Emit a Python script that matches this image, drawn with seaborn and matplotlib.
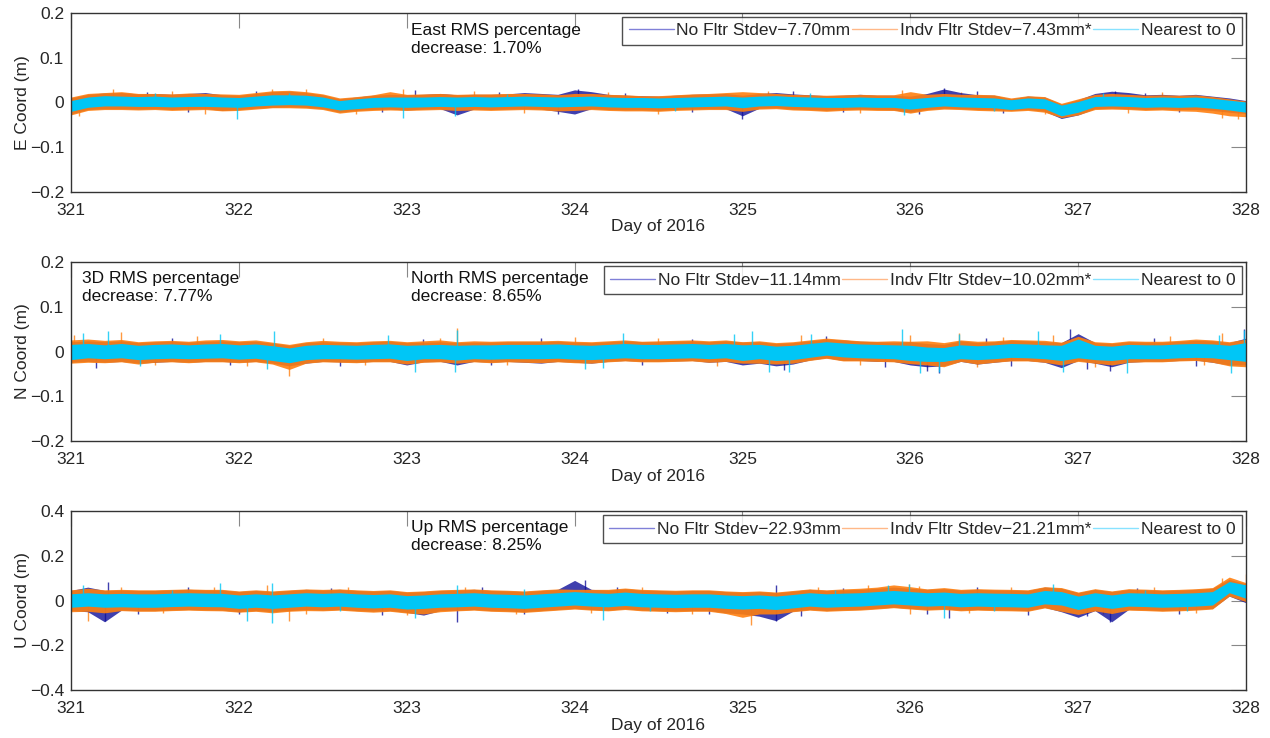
import numpy as np
import pandas as pd
import matplotlib
matplotlib.use("Agg")
import matplotlib.pyplot as plt
from matplotlib.lines import Line2D
import seaborn as sns

# sample times (day of 2016), one envelope value every 0.1 day
days = np.linspace(321, 328, 71)

# ---- East (mm): lower / upper envelope of each series ----
e_nofl_hi = [10,18,21,22,19,20,18,20,22,17,16,20,24,25,22,17,8,12,16,18,17,18,20,17,18,18,19,22,20,18,28,24,18,16,15,14,16,18,19,20,16,20,22,19,17,15,16,18,16,16,14,20,30,22,17,16,8,14,12,-4,6,20,25,22,17,18,16,18,14,10,4]
e_nofl_lo = [-26,-16,-14,-14,-15,-14,-16,-15,-14,-18,-16,-13,-11,-10,-11,-14,-22,-18,-16,-15,-17,-15,-14,-28,-15,-16,-15,-14,-15,-20,-26,-14,-16,-17,-17,-18,-16,-15,-14,-14,-30,-13,-12,-15,-16,-18,-16,-15,-16,-17,-22,-16,-13,-14,-16,-17,-18,-16,-20,-36,-28,-14,-13,-14,-16,-15,-16,-16,-18,-22,-25]
e_indv_hi = [12,20,22,24,20,20,19,21,20,19,18,22,26,27,24,19,10,13,17,24,18,19,20,18,19,19,20,20,19,17,20,20,18,17,15,15,17,19,20,22,24,22,20,18,17,16,17,18,17,17,24,18,20,18,18,17,10,15,13,-2,8,18,20,18,16,17,16,17,13,8,3]
e_indv_lo = [-28,-18,-16,-16,-17,-16,-18,-17,-16,-19,-18,-15,-12,-12,-13,-16,-24,-20,-18,-17,-18,-17,-16,-18,-17,-18,-17,-16,-17,-19,-18,-16,-18,-19,-19,-20,-18,-17,-16,-16,-20,-15,-14,-17,-18,-20,-18,-17,-18,-18,-24,-18,-15,-16,-18,-19,-20,-18,-22,-34,-28,-16,-15,-16,-18,-17,-19,-20,-24,-30,-32]
e_near_hi = [4,12,15,14,13,14,12,13,14,12,11,14,17,17,16,12,4,8,11,12,12,12,13,12,13,12,13,14,13,12,13,14,12,11,11,10,11,12,13,14,12,14,15,13,12,11,11,12,11,11,8,11,14,12,11,10,6,10,8,-6,2,13,14,13,11,12,11,12,9,5,1]
e_near_lo = [-20,-11,-8,-8,-9,-9,-10,-9,-9,-10,-11,-8,-6,-5,-6,-10,-17,-14,-11,-10,-11,-10,-9,-10,-9,-10,-9,-8,-9,-10,-9,-8,-10,-11,-11,-12,-11,-10,-9,-8,-12,-8,-7,-9,-10,-11,-11,-10,-11,-11,-15,-11,-8,-10,-11,-12,-16,-12,-14,-30,-22,-9,-8,-9,-11,-10,-11,-10,-13,-17,-22]

# ---- North (mm) ----
n_nofl_hi = [22,24,22,24,20,22,23,21,23,24,22,23,19,14,20,22,21,20,22,23,20,21,22,20,21,21,22,22,22,23,21,20,22,24,22,22,23,24,22,24,21,22,18,20,24,28,26,23,22,21,22,18,16,24,20,22,25,24,22,20,40,20,18,22,21,21,23,25,24,20,30]
n_nofl_lo = [-24,-22,-24,-22,-26,-24,-22,-24,-22,-22,-24,-22,-26,-32,-26,-22,-23,-24,-22,-22,-30,-23,-22,-30,-22,-24,-22,-24,-26,-22,-24,-26,-22,-20,-22,-22,-21,-20,-24,-22,-30,-26,-32,-28,-19,-14,-20,-20,-22,-22,-30,-34,-32,-22,-28,-24,-20,-20,-24,-36,-20,-26,-34,-24,-22,-22,-20,-19,-24,-30,-30]
n_indv_hi = [26,28,25,27,22,24,25,23,26,27,24,26,21,16,22,25,23,22,24,25,22,24,26,22,24,23,24,24,24,25,23,22,24,26,23,24,25,26,24,26,22,24,20,22,26,30,27,24,23,24,23,24,20,26,23,24,27,26,25,21,34,22,20,24,23,23,25,28,26,22,28]
n_indv_lo = [-26,-24,-25,-23,-28,-24,-23,-25,-23,-23,-25,-23,-28,-40,-26,-23,-24,-25,-23,-23,-28,-24,-23,-26,-23,-25,-23,-24,-25,-23,-25,-26,-23,-21,-23,-23,-22,-21,-24,-22,-26,-26,-28,-26,-20,-15,-21,-21,-22,-23,-27,-30,-34,-22,-28,-24,-21,-21,-24,-30,-22,-26,-30,-24,-23,-23,-21,-20,-24,-32,-34]
n_near_hi = [16,18,15,18,14,16,17,15,17,18,15,17,13,8,14,16,15,14,16,17,14,15,16,14,15,15,16,16,16,17,15,14,16,18,16,16,17,18,16,18,15,16,12,14,18,22,19,17,16,15,14,10,9,15,13,15,18,17,15,14,28,14,12,16,15,15,17,18,17,14,20]
n_near_lo = [-18,-14,-16,-14,-18,-16,-15,-16,-15,-14,-17,-15,-20,-25,-18,-16,-16,-17,-16,-15,-20,-16,-16,-19,-16,-17,-16,-16,-16,-15,-17,-18,-16,-14,-16,-16,-15,-14,-16,-14,-20,-16,-20,-18,-13,-8,-12,-14,-15,-16,-20,-22,-22,-16,-18,-16,-13,-14,-16,-20,-14,-18,-20,-16,-16,-16,-14,-13,-14,-18,-22]

# ---- Up (mm) ----
u_nofl_hi = [45,60,45,47,45,45,48,50,48,47,40,45,40,45,50,47,50,45,42,45,37,40,45,47,50,45,43,40,45,50,90,50,47,53,47,45,43,45,45,40,37,40,35,42,50,45,48,50,55,60,55,50,53,47,50,48,47,45,60,55,35,50,40,50,48,45,47,50,55,95,75]
u_nofl_lo = [-45,-50,-95,-43,-45,-45,-42,-40,-42,-43,-50,-45,-50,-45,-40,-43,-40,-45,-48,-45,-53,-65,-45,-43,-40,-45,-47,-50,-45,-40,-35,-40,-43,-37,-43,-45,-47,-45,-45,-55,-60,-70,-90,-48,-40,-45,-42,-40,-35,-30,-35,-40,-37,-43,-40,-42,-43,-45,-30,-50,-75,-45,-95,-40,-42,-45,-43,-40,-35,20,-10]
u_indv_hi = [48,55,48,50,48,48,50,52,50,50,43,48,43,48,52,50,52,48,45,48,40,43,48,50,52,48,46,43,48,52,50,50,50,56,50,48,46,48,48,43,40,43,38,45,52,48,52,55,60,70,62,52,58,50,53,51,50,48,62,58,38,53,43,53,51,48,50,53,58,105,80]
u_indv_lo = [-50,-48,-55,-45,-48,-48,-45,-43,-45,-46,-52,-48,-55,-48,-45,-46,-43,-48,-52,-48,-56,-60,-50,-46,-43,-48,-50,-53,-48,-43,-38,-43,-46,-40,-46,-48,-50,-48,-48,-58,-75,-60,-60,-50,-43,-48,-45,-43,-38,-32,-38,-43,-40,-46,-43,-45,-46,-48,-33,-48,-62,-46,-58,-43,-45,-48,-46,-43,-38,20,-5]
u_near_hi = [30,35,30,32,30,30,33,35,33,32,25,30,25,30,35,32,35,30,27,30,22,25,30,32,35,30,28,25,30,35,40,35,32,38,32,30,28,30,30,25,22,25,20,27,35,30,33,35,40,45,40,35,38,32,35,33,32,30,45,40,20,35,25,35,33,30,32,35,40,85,70]
u_near_lo = [-30,-25,-30,-28,-30,-30,-27,-25,-27,-28,-35,-30,-35,-30,-25,-28,-25,-30,-33,-30,-38,-35,-30,-28,-25,-30,-32,-35,-30,-25,-20,-25,-28,-22,-28,-30,-32,-30,-30,-35,-38,-35,-40,-33,-25,-30,-27,-25,-20,-15,-20,-25,-22,-28,-25,-27,-28,-30,-15,-20,-40,-25,-35,-25,-27,-30,-28,-25,-20,35,10]

# isolated spikes: (day, mm)
e_spikes = {
    "nofl": [(324.02, 30), (325.0, -38), (326.2, 32), (327.22, 26), (323.05, 28),
             (321.45, 23), (321.7, -22), (322.1, 25), (322.85, -21), (323.55, 23), (323.9, -25),
             (324.3, 21), (324.7, -21), (325.3, 25), (325.6, -22), (326.05, -27), (326.4, 25),
             (326.55, -23), (327.4, 22), (327.6, -21)],
    "indv": [(321.25, 30), (322.4, 30), (322.98, 30), (325.95, 28), (327.86, -34),
             (321.05, -30), (321.6, 25), (321.8, -25), (322.2, 29), (322.7, -25), (323.4, 25),
             (323.7, -23), (324.2, 24), (324.5, -25), (325.15, 25), (325.7, -23), (326.3, 23),
             (326.8, -25), (327.3, -23), (327.5, 23), (327.95, -36)],
    "near": [(321.99, -36), (322.98, -35), (323.29, -30), (325.96, -28),
             (321.5, 20), (322.3, 22), (323.6, 19), (324.6, -19), (325.4, 21), (326.5, -20), (327.15, 20)],
}
n_spikes = {
    "nofl": [(326.95, 50), (327.99, 50), (326.17, -48), (327.19, -44),
             (321.15, -36), (321.6, 30), (321.95, -30), (322.6, -32), (323.1, 28), (323.5, -30),
             (323.8, 30), (324.4, -30), (324.7, 28), (325.25, -42), (325.5, 34), (325.85, -34),
             (326.1, -44), (326.45, 30), (326.6, -32), (327.05, -40), (327.45, 30), (327.7, -32)],
    "indv": [(322.30, -55), (323.30, 52), (321.3, 44), (326.29, 42), (327.86, 42),
             (321.02, 36), (321.5, -30), (321.75, 34), (322.05, -32), (322.5, 30), (322.75, -30),
             (323.2, 30), (323.6, -30), (324.0, 32), (324.5, 30), (324.85, -32), (325.35, 36),
             (325.7, -30), (326.0, 36), (326.4, -34), (326.55, 32), (326.85, 36), (327.1, -34),
             (327.55, 34), (327.75, -30)],
    "near": [(321.07, 42), (321.22, 45), (321.89, 40), (322.21, 45), (322.89, 38), (323.30, 48),
             (324.29, 42), (324.95, 40), (325.06, 45), (325.41, 40), (325.95, 50), (326.29, 40),
             (326.76, 45), (327.84, 38), (327.99, 48), (321.41, -32), (322.17, -40), (323.05, -45),
             (323.29, -45), (324.06, -40), (324.17, -36), (325.16, -45), (325.28, -45), (326.06, -48),
             (326.17, -45), (326.91, -45), (327.29, -48), (327.91, -48)],
}
u_spikes = {
    "nofl": [(321.22, 85), (324.06, 90), (325.20, 70), (321.2, -90), (323.30, -95), (325.20, -90),
             (327.19, -95), (326.23, -80),
             (321.4, -60), (321.7, 60), (322.0, -60), (322.55, 55), (322.85, -65), (323.45, 60),
             (323.7, -60), (324.25, 60), (324.55, -55), (324.8, -60), (325.35, -70), (325.6, 55),
             (326.1, -60), (326.4, 60), (326.7, -65), (327.05, -70), (327.35, 55), (327.6, -60)],
    "indv": [(322.17, 70), (325.99, 75), (327.86, 100), (328.0, 120), (321.10, -90), (322.30, -90),
             (325.05, -110), (326.0, -60),
             (321.3, 60), (321.55, -55), (321.85, 60), (322.4, -60), (322.65, 60), (323.0, -65),
             (323.35, 60), (323.65, -60), (324.1, -55), (324.4, 60), (324.7, -60), (325.45, 60),
             (325.75, 70), (326.05, 65), (326.35, -55), (326.6, 60), (327.15, -60), (327.45, 60),
             (327.7, -55)],
    "near": [(321.07, 70), (321.89, 80), (322.20, 80), (323.3, 70), (326.85, 75), (325.87, 70),
             (325.99, 75), (322.05, -90), (322.2, -100), (323.05, -80), (324.17, -85), (326.20, -80),
             (321.6, 45), (322.6, -48), (323.7, 50), (324.45, -45), (325.55, 48), (326.5, -45),
             (327.4, 48), (327.65, -45)],
}

# legend labels and annotation text
e_labels = ["No Fltr Stdev\u22127.70mm", "Indv Fltr Stdev\u22127.43mm*", "Nearest to 0"]
n_labels = ["No Fltr Stdev\u221211.14mm", "Indv Fltr Stdev\u221210.02mm*", "Nearest to 0"]
u_labels = ["No Fltr Stdev\u221222.93mm", "Indv Fltr Stdev\u221221.21mm*", "Nearest to 0"]
e_note = "East RMS percentage\ndecrease: 1.70%"
n_note = "North RMS percentage\ndecrease: 8.65%"
u_note = "Up RMS percentage\ndecrease: 8.25%"
d3_note = "3D RMS percentage\ndecrease: 7.77%"

sns.set_theme(style="white")
plt.rcParams['font.family'] = ['Liberation Sans', 'DejaVu Sans']

colors = {"nofl": "#10109a", "indv": "#ff8010", "near": "#00c6f6"}
band_alpha = {"nofl": 0.8, "indv": 0.9, "near": 1.0}
leg_colors = ["#8080d8", "#ffb888", "#88e2ff"]


def long_frame(lo, hi):
    rows = []
    for d, a, b in zip(days, lo, hi):
        rows.append((d, a / 1000.0))
        rows.append((d, b / 1000.0))
    return pd.DataFrame(rows, columns=["day", "val"])


def draw_panel(ax, env, spikes, ylim, yticks, yticklabels, ylabel, labels, notes):
    for key in ["nofl", "indv", "near"]:
        pts = spikes[key]
        xs = [p[0] for p in pts]
        ys = [p[1] / 1000.0 for p in pts]
        z = 0.5 if key != "near" else 1.5
        ax.vlines(xs, 0, ys, color=colors[key], lw=1.0, alpha=0.8, zorder=z)
        lo, hi = env[key]
        sns.lineplot(data=long_frame(lo, hi), x="day", y="val", color=colors[key],
                     estimator="mean", errorbar=("pi", 100), linewidth=0,
                     err_kws={"alpha": band_alpha[key], "linewidth": 0, "zorder": z + 0.2},
                     legend=False, ax=ax)
    ax.set_xlim(321, 328)
    ax.set_ylim(*ylim)
    ax.set_xticks(range(321, 329))
    ax.set_xticklabels([str(d) for d in range(321, 329)])
    ax.set_yticks(yticks)
    ax.set_yticklabels(yticklabels)
    ax.set_xlabel("Day of 2016", fontsize=12.5, labelpad=1)
    ax.set_ylabel(ylabel, fontsize=12.5, labelpad=0)
    ax.tick_params(direction="in", length=11, width=0.8, color="#888888", labelsize=12.5,
                   top=True, right=True, pad=5)
    ax.tick_params(axis="x", pad=8)
    for s in ax.spines.values():
        s.set_color("#333333")
        s.set_linewidth(1.0)
        s.set_zorder(5)
    handles = [Line2D([], [], color=c, lw=1) for c in leg_colors]
    leg = ax.legend(handles, labels, loc="upper right", bbox_to_anchor=(1.0, 1.0), ncol=3,
                    fontsize=12.5, frameon=True, fancybox=False, borderaxespad=0.25,
                    handlelength=2.6, handletextpad=0.15, columnspacing=0.1, borderpad=0.35)
    leg.get_frame().set_edgecolor("#222222")
    leg.get_frame().set_linewidth(1.0)
    leg.set_zorder(10)
    for (x, y, t) in notes:
        ax.text(x, y, t, transform=ax.transAxes, ha="left", va="top", fontsize=12.5,
                linespacing=1.25, color="#111111")


fig = plt.figure(figsize=(12.7, 7.38), dpi=100)
ax1 = fig.add_axes([0.0559, 0.740, 0.9252, 0.2425])
ax2 = fig.add_axes([0.0559, 0.4024, 0.9252, 0.2425])
ax3 = fig.add_axes([0.0559, 0.065, 0.9252, 0.2425])

ticks2 = [-0.2, -0.1, 0, 0.1, 0.2]
labels2 = ["\u22120.2", "\u22120.1", "0", "0.1", "0.2"]
ticks4 = [-0.4, -0.2, 0, 0.2, 0.4]
labels4 = ["\u22120.4", "\u22120.2", "0", "0.2", "0.4"]

draw_panel(ax1, {"nofl": (e_nofl_lo, e_nofl_hi), "indv": (e_indv_lo, e_indv_hi), "near": (e_near_lo, e_near_hi)},
           e_spikes, (-0.2, 0.2), ticks2, labels2, "E Coord (m)", e_labels, [(0.2894, 0.945, e_note)])
draw_panel(ax2, {"nofl": (n_nofl_lo, n_nofl_hi), "indv": (n_indv_lo, n_indv_hi), "near": (n_near_lo, n_near_hi)},
           n_spikes, (-0.2, 0.2), ticks2, labels2, "N Coord (m)", n_labels,
           [(0.2894, 0.95, n_note), (0.0094, 0.95, d3_note)])
draw_panel(ax3, {"nofl": (u_nofl_lo, u_nofl_hi), "indv": (u_indv_lo, u_indv_hi), "near": (u_near_lo, u_near_hi)},
           u_spikes, (-0.4, 0.4), ticks4, labels4, "U Coord (m)", u_labels, [(0.2894, 0.95, u_note)])

fig.savefig("out.png", dpi=100, facecolor="white")
